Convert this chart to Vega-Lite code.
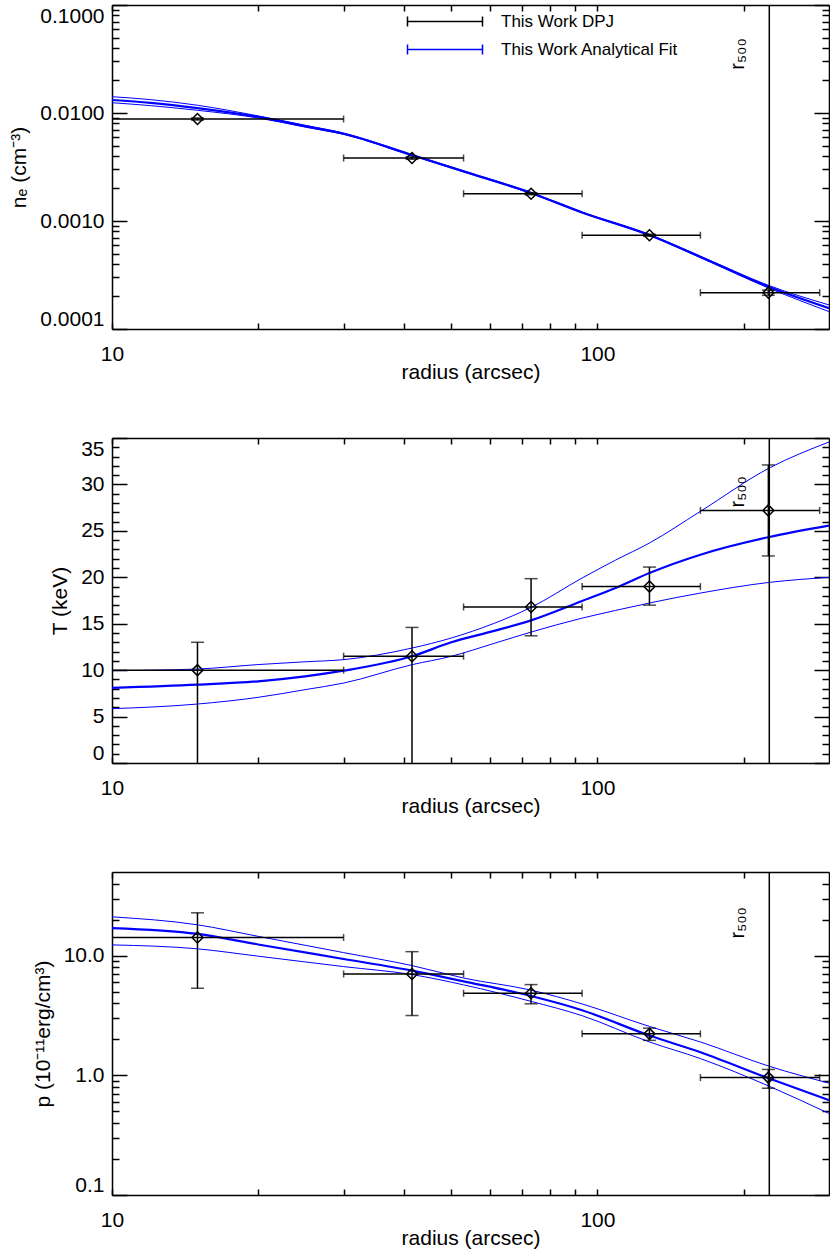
{
  "$schema": "https://vega.github.io/schema/vega-lite/v6.json",
  "padding": {"left": 8, "top": 4, "right": 2, "bottom": 2},
  "spacing": 55,
  "datasets": {
    "r500": [{"r500": 226}],
    "ne_pts": [
      {"r": 15, "rlo": 10, "rhi": 30, "v": 0.0088, "vlo": 0.0086, "vhi": 0.0090},
      {"r": 41.5, "rlo": 30, "rhi": 53, "v": 0.00383, "vlo": 0.00373, "vhi": 0.00393},
      {"r": 73, "rlo": 53, "rhi": 93, "v": 0.00179, "vlo": 0.00175, "vhi": 0.00183},
      {"r": 128, "rlo": 93, "rhi": 163, "v": 0.000738, "vlo": 0.000722, "vhi": 0.000754},
      {"r": 225, "rlo": 163, "rhi": 287, "v": 0.000217, "vlo": 0.000205, "vhi": 0.000229}
    ],
    "ne_fit": [
      {"r": 10, "band": "best", "v": 0.0132}, {"r": 12, "band": "best", "v": 0.0124}, {"r": 15, "band": "best", "v": 0.0111},
      {"r": 20, "band": "best", "v": 0.0092}, {"r": 25, "band": "best", "v": 0.00755}, {"r": 30, "band": "best", "v": 0.00643},
      {"r": 41.5, "band": "best", "v": 0.00408}, {"r": 53, "band": "best", "v": 0.00288}, {"r": 73, "band": "best", "v": 0.00182},
      {"r": 93, "band": "best", "v": 0.0012}, {"r": 128, "band": "best", "v": 0.000741}, {"r": 163, "band": "best", "v": 0.000465},
      {"r": 226, "band": "best", "v": 0.000245}, {"r": 300, "band": "best", "v": 0.000156},
      {"r": 10, "band": "hi", "v": 0.01416}, {"r": 12, "band": "hi", "v": 0.0133}, {"r": 15, "band": "hi", "v": 0.0118},
      {"r": 20, "band": "hi", "v": 0.0094}, {"r": 25, "band": "hi", "v": 0.0077}, {"r": 30, "band": "hi", "v": 0.00652},
      {"r": 41.5, "band": "hi", "v": 0.00413}, {"r": 53, "band": "hi", "v": 0.00291}, {"r": 73, "band": "hi", "v": 0.00184},
      {"r": 93, "band": "hi", "v": 0.00121}, {"r": 128, "band": "hi", "v": 0.00075}, {"r": 163, "band": "hi", "v": 0.000473},
      {"r": 226, "band": "hi", "v": 0.000252}, {"r": 300, "band": "hi", "v": 0.000167},
      {"r": 10, "band": "lo", "v": 0.01245}, {"r": 12, "band": "lo", "v": 0.0117}, {"r": 15, "band": "lo", "v": 0.01059},
      {"r": 20, "band": "lo", "v": 0.009}, {"r": 25, "band": "lo", "v": 0.0074}, {"r": 30, "band": "lo", "v": 0.00634},
      {"r": 41.5, "band": "lo", "v": 0.00403}, {"r": 53, "band": "lo", "v": 0.00285}, {"r": 73, "band": "lo", "v": 0.0018},
      {"r": 93, "band": "lo", "v": 0.00119}, {"r": 128, "band": "lo", "v": 0.000733}, {"r": 163, "band": "lo", "v": 0.000458},
      {"r": 226, "band": "lo", "v": 0.000238}, {"r": 300, "band": "lo", "v": 0.000145}
    ],
    "T_pts": [
      {"r": 15, "rlo": 10, "rhi": 30, "v": 10.0, "vlo": -2, "vhi": 13.0},
      {"r": 41.5, "rlo": 30, "rhi": 53, "v": 11.5, "vlo": -2, "vhi": 14.6},
      {"r": 73, "rlo": 53, "rhi": 93, "v": 16.8, "vlo": 13.7, "vhi": 19.85},
      {"r": 128, "rlo": 93, "rhi": 163, "v": 19.0, "vlo": 17.0, "vhi": 21.1},
      {"r": 225, "rlo": 163, "rhi": 287, "v": 27.2, "vlo": 22.3, "vhi": 32.1}
    ],
    "T_fit": [
      {"r": 10, "band": "best", "v": 8.08}, {"r": 15, "band": "best", "v": 8.43}, {"r": 20, "band": "best", "v": 8.8},
      {"r": 25, "band": "best", "v": 9.33}, {"r": 30, "band": "best", "v": 9.94}, {"r": 41.5, "band": "best", "v": 11.49},
      {"r": 50, "band": "best", "v": 13.0}, {"r": 61, "band": "best", "v": 14.2}, {"r": 73, "band": "best", "v": 15.36},
      {"r": 93, "band": "best", "v": 17.45}, {"r": 109, "band": "best", "v": 18.85}, {"r": 128, "band": "best", "v": 20.46},
      {"r": 163, "band": "best", "v": 22.43}, {"r": 226, "band": "best", "v": 24.34}, {"r": 300, "band": "best", "v": 25.56},
      {"r": 10, "band": "hi", "v": 9.94}, {"r": 15, "band": "hi", "v": 10.12}, {"r": 20, "band": "hi", "v": 10.6},
      {"r": 25, "band": "hi", "v": 10.9}, {"r": 30, "band": "hi", "v": 11.13}, {"r": 41.5, "band": "hi", "v": 12.38},
      {"r": 50, "band": "hi", "v": 13.46}, {"r": 61, "band": "hi", "v": 15.0}, {"r": 73, "band": "hi", "v": 16.76},
      {"r": 93, "band": "hi", "v": 19.92}, {"r": 109, "band": "hi", "v": 21.85}, {"r": 128, "band": "hi", "v": 23.69},
      {"r": 163, "band": "hi", "v": 27.1}, {"r": 226, "band": "hi", "v": 31.77}, {"r": 300, "band": "hi", "v": 34.57},
      {"r": 10, "band": "lo", "v": 5.85}, {"r": 15, "band": "lo", "v": 6.35}, {"r": 20, "band": "lo", "v": 7.07},
      {"r": 25, "band": "lo", "v": 7.9}, {"r": 30, "band": "lo", "v": 8.61}, {"r": 41.5, "band": "lo", "v": 10.59},
      {"r": 50, "band": "lo", "v": 11.49}, {"r": 61, "band": "lo", "v": 12.85}, {"r": 73, "band": "lo", "v": 14.1},
      {"r": 93, "band": "lo", "v": 15.6}, {"r": 109, "band": "lo", "v": 16.43}, {"r": 128, "band": "lo", "v": 17.23},
      {"r": 163, "band": "lo", "v": 18.3}, {"r": 226, "band": "lo", "v": 19.45}, {"r": 300, "band": "lo", "v": 19.99}
    ],
    "p_pts": [
      {"r": 15, "rlo": 10, "rhi": 30, "v": 14.2, "vlo": 5.34, "vhi": 22.8},
      {"r": 41.5, "rlo": 30, "rhi": 53, "v": 7.03, "vlo": 3.16, "vhi": 10.8},
      {"r": 73, "rlo": 53, "rhi": 93, "v": 4.85, "vlo": 3.96, "vhi": 5.73},
      {"r": 128, "rlo": 93, "rhi": 163, "v": 2.22, "vlo": 1.96, "vhi": 2.48},
      {"r": 225, "rlo": 163, "rhi": 287, "v": 0.957, "vlo": 0.78, "vhi": 1.12}
    ],
    "p_fit": [
      {"r": 10, "band": "best", "v": 17.0}, {"r": 15, "band": "best", "v": 15.2}, {"r": 20, "band": "best", "v": 12.4},
      {"r": 30, "band": "best", "v": 9.38}, {"r": 41.5, "band": "best", "v": 7.5}, {"r": 53, "band": "best", "v": 6.1},
      {"r": 73, "band": "best", "v": 4.6}, {"r": 93, "band": "best", "v": 3.5}, {"r": 128, "band": "best", "v": 2.15},
      {"r": 163, "band": "best", "v": 1.56}, {"r": 226, "band": "best", "v": 0.94}, {"r": 300, "band": "best", "v": 0.62},
      {"r": 10, "band": "hi", "v": 21.1}, {"r": 15, "band": "hi", "v": 18.1}, {"r": 20, "band": "hi", "v": 14.5},
      {"r": 30, "band": "hi", "v": 10.6}, {"r": 41.5, "band": "hi", "v": 8.26}, {"r": 53, "band": "hi", "v": 6.5},
      {"r": 73, "band": "hi", "v": 5.15}, {"r": 93, "band": "hi", "v": 3.95}, {"r": 128, "band": "hi", "v": 2.56},
      {"r": 163, "band": "hi", "v": 1.9}, {"r": 226, "band": "hi", "v": 1.19}, {"r": 300, "band": "hi", "v": 0.86},
      {"r": 10, "band": "lo", "v": 12.3}, {"r": 15, "band": "lo", "v": 11.4}, {"r": 20, "band": "lo", "v": 9.9},
      {"r": 30, "band": "lo", "v": 8.1}, {"r": 41.5, "band": "lo", "v": 6.95}, {"r": 53, "band": "lo", "v": 5.7},
      {"r": 73, "band": "lo", "v": 4.15}, {"r": 93, "band": "lo", "v": 3.15}, {"r": 128, "band": "lo", "v": 1.9},
      {"r": 163, "band": "lo", "v": 1.38}, {"r": 226, "band": "lo", "v": 0.81}, {"r": 300, "band": "lo", "v": 0.48}
    ]
  },
  "vconcat": [
    {
      "width": 717, "height": 324,
      "resolve": {"axis": {"x": "independent", "y": "independent"}},
      "layer": [
        {"data": {"name": "ne_fit"}, "transform": [{"filter": "datum.band != 'best'"}],
         "mark": {"type": "line", "strokeWidth": 1, "clip": true, "interpolate": "monotone"},
         "encoding": {
           "x": {"field": "r", "type": "quantitative", "scale": {"type": "log", "domain": [10, 300], "nice": false},
                 "axis": {"orient": "bottom", "values": [10,20,30,40,50,60,70,80,90,100,200], "tickSize": -6, "labelPadding": 20, "format": "d", "labelExpr": "datum.value == 10 || datum.value == 100 ? datum.label : ''", "title": "radius (arcsec)", "titlePadding": -3}},
           "y": {"field": "v", "type": "quantitative", "scale": {"type": "log", "domain": [0.0001, 0.1], "nice": false},
                 "axis": {"orient": "left", "values": [0.0001, 0.001, 0.01, 0.1], "format": ".4f", "tickSize": -15, "labelPadding": 23, "labelFlush": true, "title": "nₑ (cm⁻³)", "titlePadding": 10}},
           "detail": {"field": "band"},
           "color": {"datum": "This Work Analytical Fit", "type": "nominal",
                     "scale": {"domain": ["This Work DPJ", "This Work Analytical Fit"], "range": ["black", "blue"]},
                     "legend": {"orient": "none", "legendX": 324.5, "legendY": 8, "title": null, "direction": "vertical",
                                "symbolType": "M-7.5,0H7.5M-7.5,-1V1M7.5,-1V1", "symbolSize": 100, "symbolStrokeWidth": 1.5,
                                "labelFont": "Liberation Sans", "labelFontSize": 17, "labelColor": "black", "labelOffset": 47.5, "labelLimit": 0,
                                "rowPadding": 10, "padding": 0, "symbolOffset": 0}}
         }},
        {"data": {"name": "ne_fit"}, "transform": [{"filter": "datum.band == 'best'"}],
         "mark": {"type": "line", "strokeWidth": 2.2, "clip": true, "interpolate": "monotone"},
         "encoding": {
           "x": {"field": "r", "type": "quantitative", "scale": {"type": "log", "domain": [10, 300], "nice": false},
                 "axis": {"orient": "top", "values": [10,20,30,40,50,60,70,80,90,100,200], "tickSize": -6, "labels": false, "title": null}},
           "y": {"field": "v", "type": "quantitative", "scale": {"type": "log", "domain": [0.0001, 0.1], "nice": false},
                 "axis": {"orient": "left", "values": [0.0002,0.0003,0.0004,0.0005,0.0006,0.0007,0.0008,0.0009,0.002,0.003,0.004,0.005,0.006,0.007,0.008,0.009,0.02,0.03,0.04,0.05,0.06,0.07,0.08,0.09], "tickSize": -7, "labels": false, "domain": false, "title": null}},
           "color": {"datum": "This Work Analytical Fit", "type": "nominal",
                     "scale": {"domain": ["This Work DPJ", "This Work Analytical Fit"], "range": ["black", "blue"]}}
         }},
        {"data": {"name": "ne_pts"}, "mark": {"type": "rule", "color": "black", "strokeWidth": 1.5, "clip": true},
         "encoding": {
           "x": {"field": "rlo", "type": "quantitative", "scale": {"type": "log", "domain": [10, 300], "nice": false}, "axis": null},
           "x2": {"field": "rhi"},
           "y": {"field": "v", "type": "quantitative", "scale": {"type": "log", "domain": [0.0001, 0.1], "nice": false},
                 "axis": {"orient": "right", "values": [0.0001, 0.001, 0.01, 0.1], "tickSize": -15, "labels": false, "title": null}}
         }},
        {"data": {"name": "ne_pts"}, "mark": {"type": "rule", "color": "black", "strokeWidth": 1.5, "clip": true},
         "encoding": {
           "x": {"field": "r", "type": "quantitative", "scale": {"type": "log", "domain": [10, 300], "nice": false}, "axis": null},
           "y": {"field": "vlo", "type": "quantitative", "scale": {"type": "log", "domain": [0.0001, 0.1], "nice": false},
                 "axis": {"orient": "right", "values": [0.0002,0.0003,0.0004,0.0005,0.0006,0.0007,0.0008,0.0009,0.002,0.003,0.004,0.005,0.006,0.007,0.008,0.009,0.02,0.03,0.04,0.05,0.06,0.07,0.08,0.09], "tickSize": -7, "labels": false, "domain": false, "title": null}},
           "y2": {"field": "vhi"}
         }},
        {"data": {"name": "ne_pts"}, "mark": {"type": "tick", "orient": "vertical", "color": "black", "size": 7, "thickness": 1.5, "clip": true},
         "encoding": {"x": {"field": "rlo", "type": "quantitative", "scale": {"type": "log", "domain": [10, 300], "nice": false}, "axis": null},
                      "y": {"field": "v", "type": "quantitative", "scale": {"type": "log", "domain": [0.0001, 0.1], "nice": false}, "axis": null}}},
        {"data": {"name": "ne_pts"}, "mark": {"type": "tick", "orient": "vertical", "color": "black", "size": 7, "thickness": 1.5, "clip": true},
         "encoding": {"x": {"field": "rhi", "type": "quantitative", "scale": {"type": "log", "domain": [10, 300], "nice": false}, "axis": null},
                      "y": {"field": "v", "type": "quantitative", "scale": {"type": "log", "domain": [0.0001, 0.1], "nice": false}, "axis": null}}},
        {"data": {"name": "ne_pts"}, "mark": {"type": "tick", "orient": "horizontal", "color": "black", "size": 13, "thickness": 1.5, "clip": true},
         "encoding": {"x": {"field": "r", "type": "quantitative", "scale": {"type": "log", "domain": [10, 300], "nice": false}, "axis": null},
                      "y": {"field": "vlo", "type": "quantitative", "scale": {"type": "log", "domain": [0.0001, 0.1], "nice": false}, "axis": null}}},
        {"data": {"name": "ne_pts"}, "mark": {"type": "tick", "orient": "horizontal", "color": "black", "size": 13, "thickness": 1.5, "clip": true},
         "encoding": {"x": {"field": "r", "type": "quantitative", "scale": {"type": "log", "domain": [10, 300], "nice": false}, "axis": null},
                      "y": {"field": "vhi", "type": "quantitative", "scale": {"type": "log", "domain": [0.0001, 0.1], "nice": false}, "axis": null}}},
        {"data": {"name": "ne_pts"}, "mark": {"type": "point", "shape": "diamond", "size": 121, "filled": false, "color": "black", "strokeWidth": 1.5, "opacity": 1},
         "encoding": {"x": {"field": "r", "type": "quantitative", "scale": {"type": "log", "domain": [10, 300], "nice": false}, "axis": null},
                      "y": {"field": "v", "type": "quantitative", "scale": {"type": "log", "domain": [0.0001, 0.1], "nice": false}, "axis": null}}},
        {"data": {"name": "r500"}, "mark": {"type": "rule", "color": "black", "strokeWidth": 1.5},
         "encoding": {"x": {"field": "r500", "type": "quantitative", "scale": {"type": "log", "domain": [10, 300], "nice": false}, "axis": null}}},
        {"data": {"name": "r500"}, "mark": {"type": "text", "text": "r₅₀₀", "angle": 270, "align": "center", "baseline": "middle", "dy": -31, "fontSize": 20, "font": "Liberation Sans", "color": "black"},
         "encoding": {"x": {"field": "r500", "type": "quantitative", "scale": {"type": "log", "domain": [10, 300], "nice": false}, "axis": null},
                      "y": {"datum": 0.0352, "type": "quantitative", "scale": {"type": "log", "domain": [0.0001, 0.1], "nice": false}, "axis": null}}}
      ]
    },
    {
      "width": 717, "height": 325,
      "resolve": {"axis": {"x": "independent", "y": "independent"}},
      "layer": [
        {"data": {"name": "T_fit"}, "transform": [{"filter": "datum.band != 'best'"}],
         "mark": {"type": "line", "strokeWidth": 1, "color": "blue", "clip": true, "interpolate": "monotone"},
         "encoding": {
           "x": {"field": "r", "type": "quantitative", "scale": {"type": "log", "domain": [10, 300], "nice": false},
                 "axis": {"orient": "bottom", "values": [10,20,30,40,50,60,70,80,90,100,200], "tickSize": -6, "labelPadding": 20, "format": "d", "labelExpr": "datum.value == 10 || datum.value == 100 ? datum.label : ''", "title": "radius (arcsec)", "titlePadding": -3}},
           "y": {"field": "v", "type": "quantitative", "scale": {"domain": [0, 35], "nice": false, "zero": false},
                 "axis": {"orient": "left", "values": [0,5,10,15,20,25,30,35], "format": "d", "tickSize": -15, "labelPadding": 23, "labelFlush": true, "title": "T (keV)", "titlePadding": 10}},
           "detail": {"field": "band"}
         }},
        {"data": {"name": "T_fit"}, "transform": [{"filter": "datum.band == 'best'"}],
         "mark": {"type": "line", "strokeWidth": 2.2, "color": "blue", "clip": true, "interpolate": "monotone"},
         "encoding": {
           "x": {"field": "r", "type": "quantitative", "scale": {"type": "log", "domain": [10, 300], "nice": false},
                 "axis": {"orient": "top", "values": [10,20,30,40,50,60,70,80,90,100,200], "tickSize": -6, "labels": false, "title": null}},
           "y": {"field": "v", "type": "quantitative", "scale": {"domain": [0, 35], "nice": false, "zero": false},
                 "axis": {"orient": "left", "values": [1,2,3,4,6,7,8,9,11,12,13,14,16,17,18,19,21,22,23,24,26,27,28,29,31,32,33,34], "tickSize": -7, "labels": false, "domain": false, "title": null}}
         }},
        {"data": {"name": "T_pts"}, "mark": {"type": "rule", "color": "black", "strokeWidth": 1.5, "clip": true},
         "encoding": {
           "x": {"field": "rlo", "type": "quantitative", "scale": {"type": "log", "domain": [10, 300], "nice": false}, "axis": null},
           "x2": {"field": "rhi"},
           "y": {"field": "v", "type": "quantitative", "scale": {"domain": [0, 35], "nice": false, "zero": false},
                 "axis": {"orient": "right", "values": [0,5,10,15,20,25,30,35], "tickSize": -15, "labels": false, "title": null}}
         }},
        {"data": {"name": "T_pts"}, "mark": {"type": "rule", "color": "black", "strokeWidth": 1.5, "clip": true},
         "encoding": {
           "x": {"field": "r", "type": "quantitative", "scale": {"type": "log", "domain": [10, 300], "nice": false}, "axis": null},
           "y": {"field": "vlo", "type": "quantitative", "scale": {"domain": [0, 35], "nice": false, "zero": false},
                 "axis": {"orient": "right", "values": [1,2,3,4,6,7,8,9,11,12,13,14,16,17,18,19,21,22,23,24,26,27,28,29,31,32,33,34], "tickSize": -7, "labels": false, "domain": false, "title": null}},
           "y2": {"field": "vhi"}
         }},
        {"data": {"name": "T_pts"}, "mark": {"type": "tick", "orient": "vertical", "color": "black", "size": 7, "thickness": 1.5, "clip": true},
         "encoding": {"x": {"field": "rlo", "type": "quantitative", "scale": {"type": "log", "domain": [10, 300], "nice": false}, "axis": null},
                      "y": {"field": "v", "type": "quantitative", "scale": {"domain": [0, 35], "nice": false, "zero": false}, "axis": null}}},
        {"data": {"name": "T_pts"}, "mark": {"type": "tick", "orient": "vertical", "color": "black", "size": 7, "thickness": 1.5, "clip": true},
         "encoding": {"x": {"field": "rhi", "type": "quantitative", "scale": {"type": "log", "domain": [10, 300], "nice": false}, "axis": null},
                      "y": {"field": "v", "type": "quantitative", "scale": {"domain": [0, 35], "nice": false, "zero": false}, "axis": null}}},
        {"data": {"name": "T_pts"}, "mark": {"type": "tick", "orient": "horizontal", "color": "black", "size": 13, "thickness": 1.5, "clip": true},
         "encoding": {"x": {"field": "r", "type": "quantitative", "scale": {"type": "log", "domain": [10, 300], "nice": false}, "axis": null},
                      "y": {"field": "vlo", "type": "quantitative", "scale": {"domain": [0, 35], "nice": false, "zero": false}, "axis": null}}},
        {"data": {"name": "T_pts"}, "mark": {"type": "tick", "orient": "horizontal", "color": "black", "size": 13, "thickness": 1.5, "clip": true},
         "encoding": {"x": {"field": "r", "type": "quantitative", "scale": {"type": "log", "domain": [10, 300], "nice": false}, "axis": null},
                      "y": {"field": "vhi", "type": "quantitative", "scale": {"domain": [0, 35], "nice": false, "zero": false}, "axis": null}}},
        {"data": {"name": "T_pts"}, "mark": {"type": "point", "shape": "diamond", "size": 121, "filled": false, "color": "black", "strokeWidth": 1.5, "opacity": 1},
         "encoding": {"x": {"field": "r", "type": "quantitative", "scale": {"type": "log", "domain": [10, 300], "nice": false}, "axis": null},
                      "y": {"field": "v", "type": "quantitative", "scale": {"domain": [0, 35], "nice": false, "zero": false}, "axis": null}}},
        {"data": {"name": "r500"}, "mark": {"type": "rule", "color": "black", "strokeWidth": 1.5},
         "encoding": {"x": {"field": "r500", "type": "quantitative", "scale": {"type": "log", "domain": [10, 300], "nice": false}, "axis": null}}},
        {"data": {"name": "r500"}, "mark": {"type": "text", "text": "r₅₀₀", "angle": 270, "align": "center", "baseline": "middle", "dy": -31, "fontSize": 20, "font": "Liberation Sans", "color": "black"},
         "encoding": {"x": {"field": "r500", "type": "quantitative", "scale": {"type": "log", "domain": [10, 300], "nice": false}, "axis": null},
                      "y": {"datum": 29.2, "type": "quantitative", "scale": {"domain": [0, 35], "nice": false, "zero": false}, "axis": null}}}
      ]
    },
    {
      "width": 717, "height": 323,
      "resolve": {"axis": {"x": "independent", "y": "independent"}},
      "layer": [
        {"data": {"name": "p_fit"}, "transform": [{"filter": "datum.band != 'best'"}],
         "mark": {"type": "line", "strokeWidth": 1, "color": "blue", "clip": true, "interpolate": "monotone"},
         "encoding": {
           "x": {"field": "r", "type": "quantitative", "scale": {"type": "log", "domain": [10, 300], "nice": false},
                 "axis": {"orient": "bottom", "values": [10,20,30,40,50,60,70,80,90,100,200], "tickSize": -6, "labelPadding": 20, "format": "d", "labelExpr": "datum.value == 10 || datum.value == 100 ? datum.label : ''", "title": "radius (arcsec)", "titlePadding": -3}},
           "y": {"field": "v", "type": "quantitative", "scale": {"type": "log", "domain": [0.1, 50], "nice": false},
                 "axis": {"orient": "left", "values": [0.1, 1, 10], "format": ".1f", "tickSize": -15, "labelPadding": 23, "labelFlush": true, "title": "p (10⁻¹¹erg/cm³)", "titlePadding": 10}},
           "detail": {"field": "band"}
         }},
        {"data": {"name": "p_fit"}, "transform": [{"filter": "datum.band == 'best'"}],
         "mark": {"type": "line", "strokeWidth": 2.2, "color": "blue", "clip": true, "interpolate": "monotone"},
         "encoding": {
           "x": {"field": "r", "type": "quantitative", "scale": {"type": "log", "domain": [10, 300], "nice": false},
                 "axis": {"orient": "top", "values": [10,20,30,40,50,60,70,80,90,100,200], "tickSize": -6, "labels": false, "title": null}},
           "y": {"field": "v", "type": "quantitative", "scale": {"type": "log", "domain": [0.1, 50], "nice": false},
                 "axis": {"orient": "left", "values": [0.2,0.3,0.4,0.5,0.6,0.7,0.8,0.9,2,3,4,5,6,7,8,9,20,30,40], "tickSize": -7, "labels": false, "domain": false, "title": null}}
         }},
        {"data": {"name": "p_pts"}, "mark": {"type": "rule", "color": "black", "strokeWidth": 1.5, "clip": true},
         "encoding": {
           "x": {"field": "rlo", "type": "quantitative", "scale": {"type": "log", "domain": [10, 300], "nice": false}, "axis": null},
           "x2": {"field": "rhi"},
           "y": {"field": "v", "type": "quantitative", "scale": {"type": "log", "domain": [0.1, 50], "nice": false},
                 "axis": {"orient": "right", "values": [0.1, 1, 10], "tickSize": -15, "labels": false, "title": null}}
         }},
        {"data": {"name": "p_pts"}, "mark": {"type": "rule", "color": "black", "strokeWidth": 1.5, "clip": true},
         "encoding": {
           "x": {"field": "r", "type": "quantitative", "scale": {"type": "log", "domain": [10, 300], "nice": false}, "axis": null},
           "y": {"field": "vlo", "type": "quantitative", "scale": {"type": "log", "domain": [0.1, 50], "nice": false},
                 "axis": {"orient": "right", "values": [0.2,0.3,0.4,0.5,0.6,0.7,0.8,0.9,2,3,4,5,6,7,8,9,20,30,40], "tickSize": -7, "labels": false, "domain": false, "title": null}},
           "y2": {"field": "vhi"}
         }},
        {"data": {"name": "p_pts"}, "mark": {"type": "tick", "orient": "vertical", "color": "black", "size": 7, "thickness": 1.5, "clip": true},
         "encoding": {"x": {"field": "rlo", "type": "quantitative", "scale": {"type": "log", "domain": [10, 300], "nice": false}, "axis": null},
                      "y": {"field": "v", "type": "quantitative", "scale": {"type": "log", "domain": [0.1, 50], "nice": false}, "axis": null}}},
        {"data": {"name": "p_pts"}, "mark": {"type": "tick", "orient": "vertical", "color": "black", "size": 7, "thickness": 1.5, "clip": true},
         "encoding": {"x": {"field": "rhi", "type": "quantitative", "scale": {"type": "log", "domain": [10, 300], "nice": false}, "axis": null},
                      "y": {"field": "v", "type": "quantitative", "scale": {"type": "log", "domain": [0.1, 50], "nice": false}, "axis": null}}},
        {"data": {"name": "p_pts"}, "mark": {"type": "tick", "orient": "horizontal", "color": "black", "size": 13, "thickness": 1.5, "clip": true},
         "encoding": {"x": {"field": "r", "type": "quantitative", "scale": {"type": "log", "domain": [10, 300], "nice": false}, "axis": null},
                      "y": {"field": "vlo", "type": "quantitative", "scale": {"type": "log", "domain": [0.1, 50], "nice": false}, "axis": null}}},
        {"data": {"name": "p_pts"}, "mark": {"type": "tick", "orient": "horizontal", "color": "black", "size": 13, "thickness": 1.5, "clip": true},
         "encoding": {"x": {"field": "r", "type": "quantitative", "scale": {"type": "log", "domain": [10, 300], "nice": false}, "axis": null},
                      "y": {"field": "vhi", "type": "quantitative", "scale": {"type": "log", "domain": [0.1, 50], "nice": false}, "axis": null}}},
        {"data": {"name": "p_pts"}, "mark": {"type": "point", "shape": "diamond", "size": 121, "filled": false, "color": "black", "strokeWidth": 1.5, "opacity": 1},
         "encoding": {"x": {"field": "r", "type": "quantitative", "scale": {"type": "log", "domain": [10, 300], "nice": false}, "axis": null},
                      "y": {"field": "v", "type": "quantitative", "scale": {"type": "log", "domain": [0.1, 50], "nice": false}, "axis": null}}},
        {"data": {"name": "r500"}, "mark": {"type": "rule", "color": "black", "strokeWidth": 1.5},
         "encoding": {"x": {"field": "r500", "type": "quantitative", "scale": {"type": "log", "domain": [10, 300], "nice": false}, "axis": null}}},
        {"data": {"name": "r500"}, "mark": {"type": "text", "text": "r₅₀₀", "angle": 270, "align": "center", "baseline": "middle", "dy": -31, "fontSize": 20, "font": "Liberation Sans", "color": "black"},
         "encoding": {"x": {"field": "r500", "type": "quantitative", "scale": {"type": "log", "domain": [10, 300], "nice": false}, "axis": null},
                      "y": {"datum": 18.8, "type": "quantitative", "scale": {"type": "log", "domain": [0.1, 50], "nice": false}, "axis": null}}}
      ]
    }
  ],
  "config": {
    "font": "Liberation Sans",
    "view": {"stroke": null},
    "axis": {
      "grid": false, "labelFont": "Liberation Sans", "labelFontSize": 21, "labelColor": "black",
      "titleFont": "Liberation Sans", "titleFontSize": 21, "titleFontWeight": "normal", "titleColor": "black",
      "domainColor": "black", "domainWidth": 1.5, "tickColor": "black", "tickWidth": 1.5,
      "labelOverlap": false, "labelFlush": false, "labelBound": false
    }
  }
}
